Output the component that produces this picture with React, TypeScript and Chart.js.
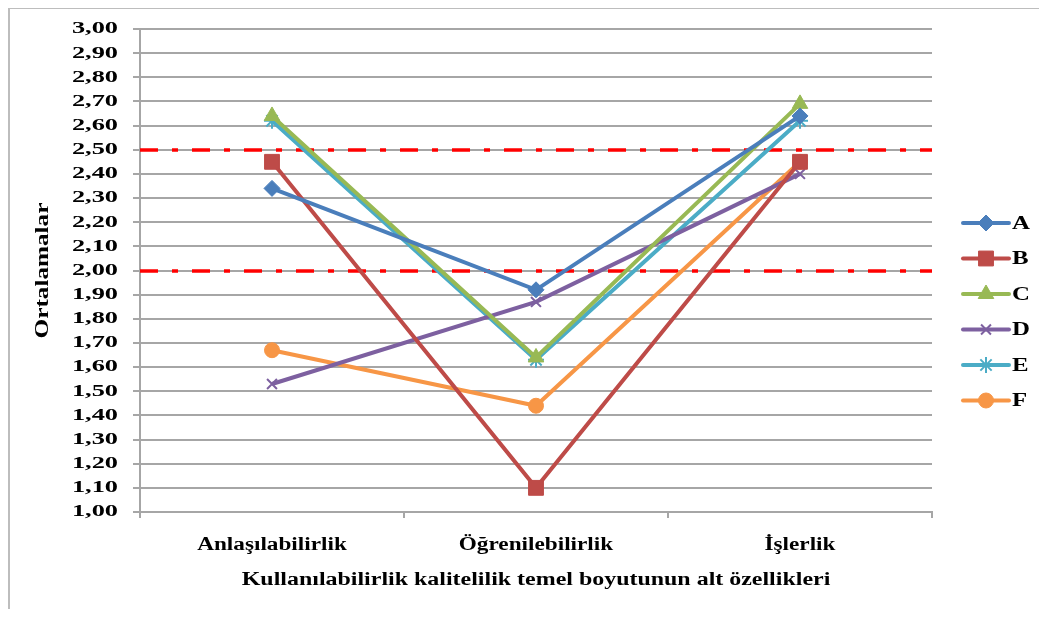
import React, { useEffect, useRef } from "react";
import { Chart, PointElement, registerables } from "chart.js";

Chart.register(...registerables);

// Sub-characteristics of the usability dimension
const categories = ["Anlaşılabilirlik", "Öğrenilebilirlik", "İşlerlik"];

// Group means per sub-characteristic
const seriesA = [2.34, 1.92, 2.64];
const seriesB = [2.45, 1.1, 2.45];
const seriesC = [2.64, 1.64, 2.69];
const seriesD = [1.53, 1.87, 2.4];
const seriesE = [2.62, 1.63, 2.62];
const seriesF = [1.67, 1.44, 2.45];

const seriesNames = ["A", "B", "C", "D", "E", "F"];

// Reference thresholds drawn as red dash-dot lines
const thresholds = [2.0, 2.5];

const yMin = 1.0;
const yMax = 3.0;
const yStep = 0.1;

const yTitle = "Ortalamalar";
const xTitle = "Kullanılabilirlik kalitelilik temel boyutunun alt özellikleri";

const SERIF = "'Liberation Serif', 'Times New Roman', serif";

const styles = [
  { color: "#4A7EBB", pointStyle: "rectRot", radius: 8, bw: 1 },
  { color: "#BE4B48", pointStyle: "rect", radius: 10.5, bw: 1 },
  { color: "#98B954", pointStyle: "triangle", radius: 9, bw: 1 },
  { color: "#7D60A0", pointStyle: "crossRot", radius: 7, bw: 2 },
  { color: "#4BACC6", pointStyle: "star", radius: 8, bw: 2 },
  { color: "#F79646", pointStyle: "circle", radius: 7.5, bw: 1 },
];

// Wide bold serif text: draws with a horizontal stretch along the text direction
function wideText(
  ctx: CanvasRenderingContext2D,
  text: string,
  x: number,
  y: number,
  size: number,
  stretch: number,
  align: CanvasTextAlign,
  rotated = false
) {
  ctx.save();
  ctx.translate(x, y);
  if (rotated) ctx.rotate(-Math.PI / 2);
  ctx.scale(stretch, 1);
  ctx.font = `bold ${size}px ${SERIF}`;
  ctx.fillStyle = "#000";
  ctx.textAlign = align;
  ctx.textBaseline = "middle";
  ctx.fillText(text, 0, 0);
  ctx.restore();
}

const thresholdPlugin = {
  id: "thresholdLines",
  beforeDatasetsDraw(chart: any) {
    const { ctx, chartArea } = chart;
    const y = chart.scales.y;
    ctx.save();
    ctx.strokeStyle = "#FF0000";
    ctx.lineWidth = 3.5;
    ctx.setLineDash([18, 14, 6, 14]);
    thresholds.forEach((t) => {
      const py = Math.round(y.getPixelForValue(t));
      ctx.beginPath();
      ctx.moveTo(chartArea.left, py);
      ctx.lineTo(chartArea.right, py);
      ctx.stroke();
    });
    ctx.restore();
  },
};

// Axis tick labels and titles
const axisTextPlugin = {
  id: "axisText",
  afterDraw(chart: any) {
    const { ctx, chartArea } = chart;
    const xs = chart.scales.x;
    const ys = chart.scales.y;
    ys.ticks.forEach((t: any, i: number) => {
      const py = ys.getPixelForTick(i);
      const label = Number(t.value).toFixed(2).replace(".", ",");
      wideText(ctx, label, chartArea.left - 22, py, 17, 1.55, "right");
    });
    xs.ticks.forEach((t: any, i: number) => {
      const px = xs.getPixelForTick(i);
      wideText(ctx, String(categories[t.value] ?? t.label), px, chartArea.bottom + 33, 18, 1.29, "center");
    });
    wideText(ctx, xTitle, (chartArea.left + chartArea.right) / 2, chartArea.bottom + 68, 18, 1.33, "center");
    wideText(ctx, yTitle, 33, (chartArea.top + chartArea.bottom) / 2, 18, 1.4, "center", true);
  },
};

const sideLegendPlugin = {
  id: "sideLegend",
  afterDraw(chart: any) {
    const { ctx } = chart;
    const x0 = 953;
    const x1 = 999;
    const top = 214;
    const gap = 35.5;
    chart.data.datasets.forEach((ds: any, i: number) => {
      const y = top + i * gap;
      ctx.save();
      ctx.strokeStyle = ds.borderColor;
      ctx.lineWidth = 4;
      ctx.lineCap = "round";
      ctx.beginPath();
      ctx.moveTo(x0, y);
      ctx.lineTo(x1, y);
      ctx.stroke();
      ctx.restore();
      const marker: any = new (PointElement as any)({
        x: (x0 + x1) / 2,
        y,
        options: {
          pointStyle: ds.pointStyle,
          radius: ds.pointRadius,
          rotation: 0,
          borderWidth: ds.pointBorderWidth,
          backgroundColor: ds.pointBackgroundColor,
          borderColor: ds.pointBorderColor,
        },
      });
      marker.draw(ctx);
      wideText(ctx, ds.label, x1 + 3, y + 1, 18, 1.38, "left");
    });
  },
};

export default function App() {
  const canvasRef = useRef<HTMLCanvasElement | null>(null);

  useEffect(() => {
    if (!canvasRef.current) return;
    const values = [seriesA, seriesB, seriesC, seriesD, seriesE, seriesF];
    const datasets = values.map((data, i) => {
      const s = styles[i];
      return {
        label: seriesNames[i],
        data,
        borderColor: s.color,
        backgroundColor: s.color,
        borderWidth: 4,
        pointStyle: s.pointStyle,
        pointRadius: s.radius,
        pointHoverRadius: s.radius,
        pointBackgroundColor: s.color,
        pointBorderColor: s.color,
        pointBorderWidth: s.bw,
        tension: 0,
      };
    });

    const chart = new Chart(canvasRef.current, {
      type: "line",
      data: { labels: categories, datasets },
      plugins: [thresholdPlugin, axisTextPlugin, sideLegendPlugin],
      options: {
        animation: false,
        responsive: false,
        layout: { padding: { top: 20, right: 107, bottom: 0, left: 0 } },
        plugins: {
          legend: { display: false },
          tooltip: { enabled: false },
        },
        scales: {
          x: {
            type: "category",
            offset: true,
            grid: {
              offset: true,
              drawOnChartArea: false,
              drawTicks: true,
              tickLength: 6,
              color: "#A6A6A6",
              lineWidth: 2,
            },
            border: { display: true, color: "#A6A6A6", width: 2 },
            ticks: { display: false, autoSkip: false },
            title: { display: false },
            afterFit: (s: any) => {
              s.height = 97;
            },
          },
          y: {
            min: yMin,
            max: yMax,
            grid: {
              color: "#A6A6A6",
              lineWidth: 2,
              drawTicks: true,
              tickLength: 7,
            },
            border: { display: true, color: "#A6A6A6", width: 2 },
            ticks: { display: false, autoSkip: false, stepSize: yStep },
            title: { display: false },
            afterFit: (s: any) => {
              s.width = 130;
            },
          },
        },
      } as any,
    });
    return () => chart.destroy();
  }, []);

  return (
    <div
      style={{
        width: 1031,
        height: 602,
        borderTop: "2px solid #BDBDBD",
        borderLeft: "2px solid #BDBDBD",
        boxSizing: "border-box",
        marginTop: -1,
        background: "#fff",
      }}
    >
      <canvas ref={canvasRef} width={1029} height={600} style={{ display: "block" }} />
    </div>
  );
}
